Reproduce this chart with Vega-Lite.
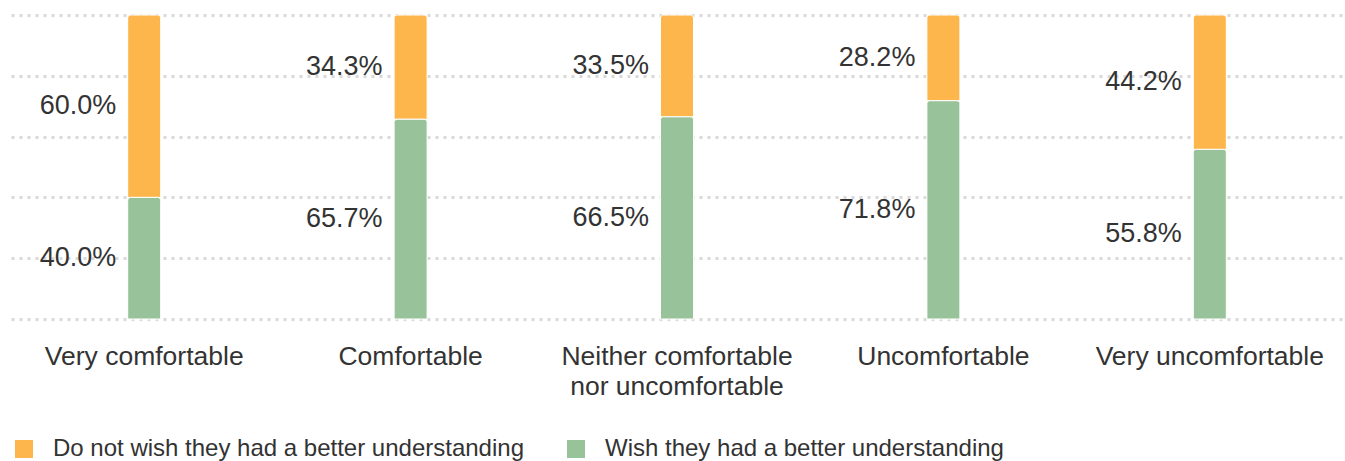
{
  "$schema": "https://vega.github.io/schema/vega-lite/v6.json",
  "width": 1332,
  "height": 304,
  "autosize": {"type": "none"},
  "padding": {"left": 11, "top": 15, "right": 2, "bottom": 142},
  "config": {"font": "Liberation Sans", "view": {"stroke": null}},
  "data": {
    "values": [
      {"category": "Very comfortable", "series": "Do not wish they had a better understanding", "pct": 0.600},
      {"category": "Very comfortable", "series": "Wish they had a better understanding", "pct": 0.400},
      {"category": "Comfortable", "series": "Do not wish they had a better understanding", "pct": 0.343},
      {"category": "Comfortable", "series": "Wish they had a better understanding", "pct": 0.657},
      {"category": "Neither comfortable nor uncomfortable", "series": "Do not wish they had a better understanding", "pct": 0.335},
      {"category": "Neither comfortable nor uncomfortable", "series": "Wish they had a better understanding", "pct": 0.665},
      {"category": "Uncomfortable", "series": "Do not wish they had a better understanding", "pct": 0.282},
      {"category": "Uncomfortable", "series": "Wish they had a better understanding", "pct": 0.718},
      {"category": "Very uncomfortable", "series": "Do not wish they had a better understanding", "pct": 0.442},
      {"category": "Very uncomfortable", "series": "Wish they had a better understanding", "pct": 0.558}
    ]
  },
  "transform": [
    {"stack": "pct", "groupby": ["category"], "sort": [{"field": "series", "order": "descending"}], "as": ["y0", "y1"]}
  ],
  "encoding": {
    "x": {
      "field": "category",
      "type": "nominal",
      "sort": ["Very comfortable", "Comfortable", "Neither comfortable nor uncomfortable", "Uncomfortable", "Very uncomfortable"],
      "scale": {"paddingInner": 0, "paddingOuter": 0},
      "axis": {
        "title": null,
        "labelAngle": 0,
        "ticks": false,
        "domain": false,
        "grid": false,
        "labelFontSize": 26.5,
        "labelColor": "#333333",
        "labelPadding": 24,
        "labelLineHeight": 30,
        "labelLimit": 0,
        "labelExpr": "datum.label == 'Neither comfortable nor uncomfortable' ? ['Neither comfortable', 'nor uncomfortable'] : datum.label"
      }
    }
  },
  "layer": [
    {
      "mark": {"type": "bar", "width": 33, "stroke": "white", "strokeWidth": 1, "cornerRadiusTopLeft": 3, "cornerRadiusTopRight": 3},
      "encoding": {
        "y": {
          "field": "y0",
          "type": "quantitative",
          "scale": {"domain": [0, 1], "nice": false},
          "axis": {
            "title": null,
            "labels": false,
            "ticks": false,
            "domain": false,
            "grid": true,
            "values": [0, 0.2, 0.4, 0.6, 0.8, 1],
            "gridDash": [3, 5],
            "gridColor": "#d9d9d9",
            "gridWidth": 3
          }
        },
        "y2": {"field": "y1"},
        "color": {
          "field": "series",
          "type": "nominal",
          "scale": {
            "domain": ["Do not wish they had a better understanding", "Wish they had a better understanding"],
            "range": ["#FDB64B", "#98C39A"]
          },
          "legend": {
            "title": null,
            "orient": "none",
            "direction": "horizontal",
            "legendX": 1,
            "legendY": 422,
            "symbolType": "square",
            "symbolSize": 324,
            "symbolStrokeWidth": 0,
            "symbolOpacity": 1,
            "labelFontSize": 24,
            "labelColor": "#333333",
            "labelOffset": 17,
            "labelLimit": 0,
            "columnPadding": 40
          }
        }
      }
    },
    {
      "transform": [
        {"fold": ["y0", "y1"], "as": ["edge", "pos"]},
        {"aggregate": [{"op": "mean", "field": "pos", "as": "mid"}], "groupby": ["category", "series", "pct"]}
      ],
      "mark": {"type": "text", "align": "right", "baseline": "middle", "dx": -28, "fontSize": 27, "color": "#333333"},
      "encoding": {
        "y": {"field": "mid", "type": "quantitative"},
        "text": {"field": "pct", "type": "quantitative", "format": ".1%"}
      }
    }
  ]
}
